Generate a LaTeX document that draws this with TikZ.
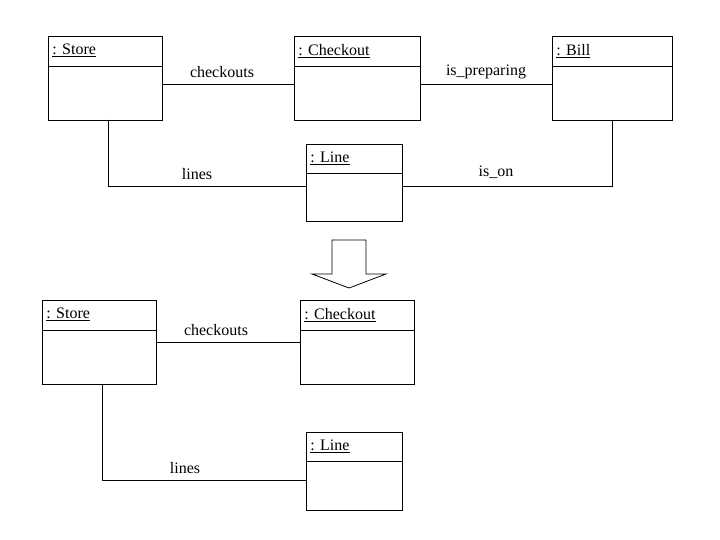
\documentclass[tikz,border=0pt]{standalone}
\usepackage{fontspec}
\setmainfont{Liberation Serif}
\begin{document}
\begin{tikzpicture}[x=1pt,y=-1pt,line width=0.8pt,
  lbl/.style={font=\fontsize{16}{16}\selectfont,inner sep=0pt},
  ttl/.style={font=\fontsize{16}{16}\selectfont,inner sep=0pt,anchor=north west}]
\useasboundingbox (0,0) rectangle (720,540);
\newcommand{\objbox}[6]{%
  \draw (#1,#2) rectangle (#3,#4);
  \draw (#1,#5) -- (#3,#5);
  \node[ttl] at (#1+4,#2+8) {\underline{#6}};}
% top
\objbox{48}{36}{162}{120}{66}{: Store}
\objbox{294}{36}{420}{120}{66}{: Checkout}
\objbox{552}{36}{672}{120}{66}{: Bill}
\objbox{306}{144}{402}{221}{173}{: Line}
\coordinate (s1) at (162,84); \coordinate (c1l) at (294,84);
\coordinate (c1r) at (420,84); \coordinate (b1) at (552,84);
\draw (s1) -- (c1l); \node[lbl] at (222,72) {checkouts};
\draw (c1r) -- (b1); \node[lbl] at (486,72) {is\_preparing};
\coordinate (sb) at (108,120); \coordinate (l1) at (306,186);
\draw (sb) |- (l1); \node[lbl] at (197,174) {lines};
\coordinate (l1r) at (402,186); \coordinate (bb) at (612,120);
\draw (l1r) -| (bb); \node[lbl] at (496,172) {is\_on};
% arrow
\draw[fill=white] (332,240) -- (366,240) -- (366,274) -- (386,274) -- (349,288) -- (312,274) -- (332,274) -- cycle;
% bottom
\objbox{42}{300}{156}{384}{330}{: Store}
\objbox{300}{300}{414}{384}{330}{: Checkout}
\objbox{306}{432}{402}{510}{461}{: Line}
\coordinate (s2) at (156,342); \coordinate (c2) at (300,342);
\draw (s2) -- (c2); \node[lbl] at (216,330) {checkouts};
\coordinate (sb2) at (102,384); \coordinate (l2) at (306,480);
\draw (sb2) |- (l2); \node[lbl] at (185,468) {lines};
\end{tikzpicture}
\end{document}
